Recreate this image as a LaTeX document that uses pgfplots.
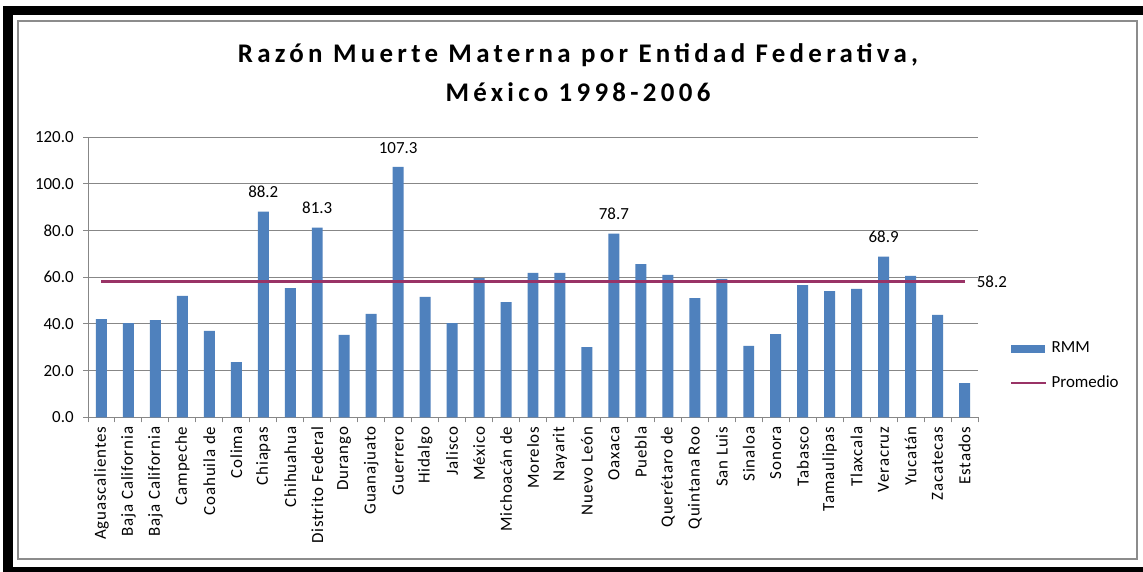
\documentclass[border=0pt]{standalone}
\usepackage{fontspec}
\setmainfont{Carlito}
\newfontfamily\titlefont[LetterSpace=16]{Carlito}
\newfontfamily\catfont[LetterSpace=5]{Carlito}
\usepackage{pgfplots}
\pgfplotsset{compat=1.18}
\definecolor{barblue}{HTML}{4F81BD}
\definecolor{promcol}{HTML}{993366}
\definecolor{gridgray}{HTML}{878787}
\definecolor{framegray}{HTML}{8C8C8C}
\begin{document}
\begin{tikzpicture}
\begin{scope}[x=0.5bp,y=-0.5bp]
\fill[white] (0,0) rectangle (1143,572);
\fill[black] (3,6) rectangle (1143,15);
\fill[black] (3,6) rectangle (13,572);
\fill[black] (3,567) rectangle (1143,572);
\draw[color=framegray, line width=1bp] (18.5,21.5) rectangle (1137.5,559.5);
\node[font=\titlefont\fontsize{13.5}{15}\selectfont\bfseries, anchor=base, inner sep=0pt] at (578,62) {Razón Muerte Materna por Entidad Federativa,};
\node[font=\titlefont\fontsize{13.5}{15}\selectfont\bfseries, anchor=base, inner sep=0pt] at (578,102) {México 1998-2006};
\end{scope}
\begin{axis}[
  at={(44bp,-208.65bp)}, anchor=south west,
  scale only axis, width=445bp, height=140bp,
  clip=false,
  xmin=-0.5, xmax=32.5, ymin=0, ymax=120,
  axis lines=left,
  axis line style={-, draw=gridgray, line width=0.5pt},
  ytick={0,20,...,120},
  yticklabel={\pgfmathprintnumber[fixed,fixed zerofill,precision=1]{\tick}},
  ymajorgrids,
  grid style={gridgray, line width=0.5pt},
  xtick={-0.5,0.5,...,32.5},
  x tick label as interval,
  xticklabels={Aguascalientes, Baja California, Baja California, Campeche, Coahuila de, Colima, Chiapas, Chihuahua, Distrito Federal, Durango, Guanajuato, Guerrero, Hidalgo, Jalisco, México, Michoacán de, Morelos, Nayarit, Nuevo León, Oaxaca, Puebla, Querétaro de, Quintana Roo, San Luis, Sinaloa, Sonora, Tabasco, Tamaulipas, Tlaxcala, Veracruz, Yucatán, Zacatecas, Estados},
  tick align=outside,
  major tick length=2.5pt,
  tick style={draw=gridgray, line width=0.5pt},
  xticklabel style={rotate=90, anchor=east, font=\catfont\fontsize{8.5}{10}\selectfont, inner sep=0pt, xshift=-2pt},
  yticklabel style={font=\fontsize{8.5}{10}\selectfont, inner sep=0pt, xshift=-4.5pt},
  /pgf/number format/assume math mode=true,
  legend style={at={(1.029,0.183)}, anchor=west, draw=none, fill=none,
    font=\fontsize{8.5}{10}\selectfont, row sep=6pt},
  legend cell align=left,
]
\addplot[ybar, bar width=0.407, fill=barblue, draw=none,
  legend image code/.code={\fill[barblue] (0pt,-2pt) rectangle (17pt,2pt);}]
  coordinates {
  (0,42.1) (1,40.4) (2,41.7) (3,52.0) (4,37.0) (5,23.7) (6,88.2) (7,55.4)
  (8,81.3) (9,35.3) (10,44.3) (11,107.3) (12,51.6) (13,40.4) (14,59.7) (15,49.4)
  (16,61.9) (17,61.9) (18,30.1) (19,78.7) (20,65.7) (21,61.0) (22,51.1) (23,59.3)
  (24,30.6) (25,35.7) (26,56.7) (27,54.1) (28,55.0) (29,68.9) (30,60.6) (31,43.9)
  (32,14.7)};
\addlegendentry{RMM}
\addplot[promcol, line width=1.3pt,
  legend image code/.code={\draw[promcol, line width=1.3pt] (0pt,0pt) -- (17.5pt,0pt);}]
  coordinates {(0,58.2) (32,58.2)};
\addlegendentry{Promedio}
\addplot[draw=none, mark=none, forget plot,
  nodes near coords={\pgfmathprintnumber[fixed,fixed zerofill,precision=1]{\pgfplotspointmeta}},
  every node near coord/.append style={font=\fontsize{8.5}{10}\selectfont, inner sep=0pt, anchor=south, yshift=6.7pt}]
  coordinates {(6,88.2) (8,81.3) (11,107.3) (19,78.7) (29,68.9)};
\node[anchor=west, inner sep=0pt, font=\fontsize{8.5}{10}\selectfont, xshift=6pt] at (axis cs:32,58.2) {58.2};
\end{axis}
\pgfresetboundingbox
\useasboundingbox (0bp,0bp) rectangle (571.5bp,-286bp);
\end{tikzpicture}
\end{document}
